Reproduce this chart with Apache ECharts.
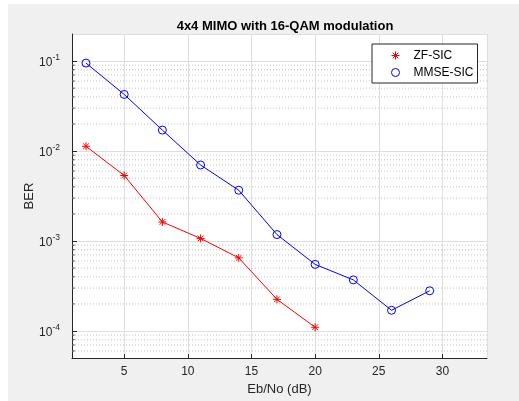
<!DOCTYPE html>
<html>
<head>
<meta charset="utf-8">
<script src="https://cdn.jsdelivr.net/npm/echarts@6/dist/echarts.min.js"></script>
<style>
  html, body { margin: 0; padding: 0; background: #ffffff; }
  #panel { position: absolute; left: 8px; top: 4px; right: 0; bottom: 0; background: #f0f0f0; }
  #main { position: absolute; left: 0; top: 0; width: 519px; height: 401px; }
</style>
</head>
<body>
<div id="panel"></div>
<div id="main"></div>
<script>
// Eb/No (dB) values
const snrZF = [2, 5, 8, 11, 14, 17, 20];
const snrMMSE = [2, 5, 8, 11, 14, 17, 20, 23, 26, 29];
// BER values
const berZF = [0.0113, 0.00535, 0.00163, 0.00107, 0.00065, 0.000225, 0.00011];
const berMMSE = [0.095, 0.0426, 0.0171, 0.0070, 0.00367, 0.00118, 0.00055, 0.00037, 0.00017, 0.00028];
const xTicks = [5, 10, 15, 20, 25, 30];

const xMin = 0.9, xMax = 33.5;
const yMin = 5e-5, yMax = 0.2;

const axisColor = '#262626';
const font = 'Arial, "Liberation Sans", Helvetica, sans-serif';

// minor log grid values (2..9 x 10^k)
const minorY = [];
for (let k = -5; k <= -1; k++) {
  for (let m = 2; m <= 9; m++) {
    const v = m * Math.pow(10, k);
    if (v > yMin * 1.0001 && v < yMax * 0.9999) minorY.push(v);
  }
}

function isDecade(v) {
  const l = Math.log10(v);
  return Math.abs(l - Math.round(l)) < 1e-6;
}
function isXTick(v) {
  return xTicks.some(t => Math.abs(t - v) < 1e-6);
}

const asterisk = 'path://M5,0L5,10M0,5L10,5M1.5,1.5L8.5,8.5M1.5,8.5L8.5,1.5';

// dotted minor grid lines, one short series each
const minorSeries = minorY.map(v => ({
  type: 'line',
  name: 'minor',
  silent: true,
  symbol: 'none',
  data: [[xMin, v], [xMax, v]],
  lineStyle: { color: '#c4c4c4', type: [1, 2], width: 1 },
  z: 1
}));
// short minor ticks on the y axis
const minorTickSeries = minorY.map(v => ({
  type: 'line',
  name: 'minortick',
  silent: true,
  symbol: 'none',
  data: [[xMin, v], [xMin + 0.2, v]],
  lineStyle: { color: axisColor, width: 1 },
  z: 2
}));

const chart = echarts.init(document.getElementById('main'), null, { renderer: 'canvas' });

chart.setOption({
  backgroundColor: 'transparent',
  animation: false,
  title: {
    text: '4x4 MIMO with 16-QAM modulation',
    left: 280,
    textAlign: 'center',
    top: 15,
    textStyle: { fontFamily: font, fontSize: 13, fontWeight: 'bold', color: '#000' }
  },
  legend: {
    orient: 'vertical',
    left: 372,
    top: 44,
    padding: [5, 4, 4, 17],
    itemGap: 4,
    itemWidth: 8,
    itemHeight: 8,
    backgroundColor: '#ffffff',
    borderColor: axisColor,
    borderWidth: 1,
    borderRadius: 0,
    textStyle: { fontFamily: font, fontSize: 12, color: '#000', padding: [0, 0, 0, 9] },
    data: [
      { name: 'ZF-SIC', icon: asterisk, itemStyle: { color: 'none', borderColor: '#ff0000', borderWidth: 1 } },
      { name: 'MMSE-SIC', icon: 'circle', itemStyle: { color: 'none', borderColor: '#0000ff', borderWidth: 1 } }
    ]
  },
  grid: {
    left: 72, right: 32, top: 34, bottom: 41,
    show: true, backgroundColor: '#ffffff', borderWidth: 0
  },
  xAxis: {
    type: 'value',
    min: xMin, max: xMax,
    splitNumber: 7,
    name: 'Eb/No (dB)',
    nameLocation: 'middle',
    nameGap: 22,
    nameTextStyle: { fontFamily: font, fontSize: 13, color: axisColor },
    axisLine: { show: true, lineStyle: { color: axisColor, width: 1 } },
    axisTick: { inside: true, length: 4, lineStyle: { color: axisColor },
      interval: (i, v) => isXTick(v) },
    axisLabel: { fontFamily: font, fontSize: 12, color: axisColor, margin: 8,
      showMinLabel: false, showMaxLabel: false,
      formatter: v => (isXTick(v) ? String(v) : '') },
    splitLine: { show: true, lineStyle: { color: '#dedede', width: 1 },
      interval: (i, v) => isXTick(v) }
  },
  yAxis: {
    type: 'log',
    logBase: 10,
    min: yMin, max: yMax,
    name: 'BER',
    nameLocation: 'middle',
    nameGap: 36,
    nameMoveOverlap: false,
    nameTextStyle: { fontFamily: font, fontSize: 13, color: axisColor },
    axisLine: { show: true, lineStyle: { color: axisColor, width: 1 } },
    axisTick: { inside: true, length: 5, lineStyle: { color: axisColor },
      interval: (i, v) => isDecade(v) },
    axisLabel: {
      margin: 12,
      showMinLabel: false, showMaxLabel: false,
      formatter: v => {
        if (!isDecade(v)) return '';
        return '{b|10}{s|' + Math.round(Math.log10(v)) + '}';
      },
      rich: {
        b: { fontFamily: font, fontSize: 12, color: axisColor, verticalAlign: 'bottom', lineHeight: 16 },
        s: { fontFamily: font, fontSize: 8.5, color: axisColor, verticalAlign: 'top', lineHeight: 16 }
      }
    },
    splitLine: { show: true, lineStyle: { color: '#dedede', width: 1 },
      interval: (i, v) => isDecade(v) }
  },
  series: [
    ...minorSeries,
    ...minorTickSeries,
    {
      name: 'ZF-SIC',
      type: 'line',
      data: snrZF.map((x, i) => [x, berZF[i]]),
      symbol: asterisk,
      symbolSize: 8,
      showAllSymbol: true,
      lineStyle: { color: '#ff0000', width: 1 },
      itemStyle: { color: 'none', borderColor: '#ff0000', borderWidth: 1 },
      z: 3
    },
    {
      name: 'MMSE-SIC',
      type: 'line',
      data: snrMMSE.map((x, i) => [x, berMMSE[i]]),
      symbol: 'circle',
      symbolSize: 8,
      showAllSymbol: true,
      lineStyle: { color: '#0000ff', width: 1 },
      itemStyle: { color: 'none', borderColor: '#0000ff', borderWidth: 1 },
      z: 3
    }
  ]
});
</script>
</body>
</html>
